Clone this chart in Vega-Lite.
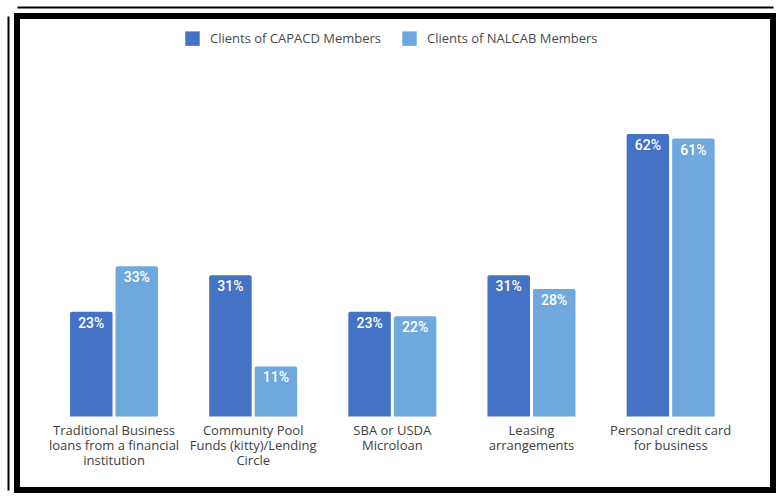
{
  "$schema": "https://vega.github.io/schema/vega-lite/v6.json",
  "width": 756,
  "height": 474,
  "autosize": {"type": "none"},
  "padding": {"left": 17, "top": 16, "right": 7, "bottom": 14},
  "background": "white",
  "view": {"stroke": "#000000", "strokeWidth": 6, "fill": "white"},
  "config": {
    "font": "Open Sans",
    "legend": {
      "orient": "none",
      "legendX": 168,
      "legendY": 15,
      "direction": "horizontal",
      "title": null,
      "padding": 0,
      "symbolType": "square",
      "symbolSize": 210,
      "symbolStrokeWidth": 0,
      "labelFont": "Open Sans",
      "labelFontSize": 13,
      "labelColor": "#4a4a4a",
      "labelOffset": 10,
      "labelLimit": 400,
      "columnPadding": 20
    }
  },
  "data": {
    "values": [
      {"category": "Traditional Business\nloans from a financial\ninstitution", "group": "Clients of CAPACD Members", "value": 23},
      {"category": "Traditional Business\nloans from a financial\ninstitution", "group": "Clients of NALCAB Members", "value": 33},
      {"category": "Community Pool\nFunds (kitty)/Lending\nCircle", "group": "Clients of CAPACD Members", "value": 31},
      {"category": "Community Pool\nFunds (kitty)/Lending\nCircle", "group": "Clients of NALCAB Members", "value": 11},
      {"category": "SBA or USDA\nMicroloan", "group": "Clients of CAPACD Members", "value": 23},
      {"category": "SBA or USDA\nMicroloan", "group": "Clients of NALCAB Members", "value": 22},
      {"category": "Leasing\narrangements", "group": "Clients of CAPACD Members", "value": 31},
      {"category": "Leasing\narrangements", "group": "Clients of NALCAB Members", "value": 28},
      {"category": "Personal credit card\nfor business", "group": "Clients of CAPACD Members", "value": 62},
      {"category": "Personal credit card\nfor business", "group": "Clients of NALCAB Members", "value": 61}
    ]
  },
  "encoding": {
    "x": {
      "field": "category",
      "type": "nominal",
      "sort": null,
      "scale": {"paddingInner": 0.3676, "paddingOuter": 0.4003, "align": 0.476},
      "axis": {"orient": "top", "offset": 9, "labels": false, "ticks": false, "title": null, "domainColor": "#000000", "domainWidth": 2, "grid": false}
    },
    "y": {
      "type": "quantitative",
      "scale": {"domain": [-16.13, 87.9], "nice": false, "zero": false},
      "axis": {"orient": "left", "offset": 9, "labels": false, "ticks": false, "title": null, "domainColor": "#000000", "domainWidth": 2, "grid": false}
    }
  },
  "layer": [
    {
      "mark": {"type": "bar", "cornerRadiusTopLeft": 2, "cornerRadiusTopRight": 2},
      "encoding": {
        "xOffset": {"field": "group", "type": "nominal", "scale": {"paddingInner": 0.066, "paddingOuter": 0}},
        "y": {"field": "value", "type": "quantitative"},
        "y2": {"datum": 0},
        "color": {
          "field": "group",
          "type": "nominal",
          "scale": {"domain": ["Clients of CAPACD Members", "Clients of NALCAB Members"], "range": ["#4472C4", "#6FA8DC"]}
        }
      }
    },
    {
      "transform": [{"calculate": "datum.value + '%'", "as": "pct"}],
      "mark": {"type": "text", "baseline": "top", "dy": 5, "font": "Roboto", "fontSize": 14, "fontWeight": 500, "color": "white"},
      "encoding": {
        "xOffset": {"field": "group", "type": "nominal"},
        "y": {"field": "value", "type": "quantitative"},
        "text": {"field": "pct"},
        "detail": {"field": "group"}
      }
    },
    {
      "transform": [{"filter": "datum.group === 'Clients of CAPACD Members'"}],
      "mark": {"type": "text", "baseline": "top", "dy": 8, "font": "Open Sans", "fontSize": 13, "lineHeight": 15, "lineBreak": "\n", "color": "#404040", "align": "center"},
      "encoding": {
        "y": {"datum": 0},
        "text": {"field": "category"}
      }
    }
  ]
}
